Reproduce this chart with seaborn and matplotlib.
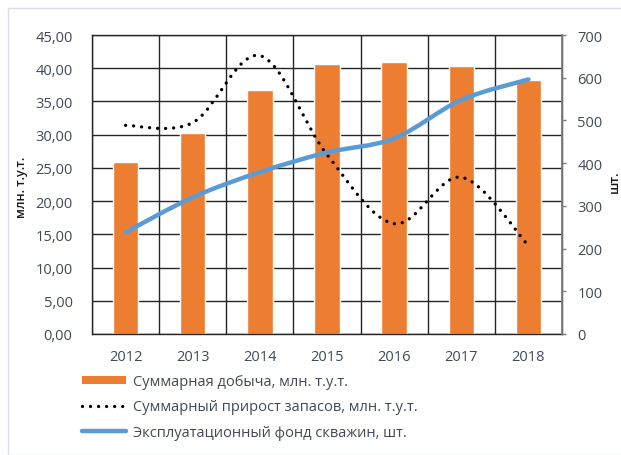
import matplotlib
matplotlib.use('Agg')
import matplotlib.pyplot as plt
import seaborn as sns
import numpy as np
import pandas as pd
from matplotlib.path import Path
from matplotlib.patches import PathPatch, Rectangle
from matplotlib.lines import Line2D
from matplotlib.ticker import FixedLocator, FuncFormatter, MultipleLocator

years = ['2012', '2013', '2014', '2015', '2016', '2017', '2018']
production = [25.9, 30.3, 36.7, 40.7, 40.9, 40.4, 38.2]
reserves_growth = [31.4, 31.8, 41.9, 27.0, 16.6, 23.6, 13.3]
wells = [238, 320, 379, 425, 458, 548, 596]

label_prod = 'Суммарная добыча, млн. т.у.т.'
label_res = 'Суммарный прирост запасов, млн. т.у.т.'
label_wells = 'Эксплуатационный фонд скважин, шт.'

ORANGE = '#ed7d31'
BLUE = '#5b9bd5'
TXT = '#404a58'
GRID = '#262626'

sns.set_theme(style='white')
plt.rcParams['font.family'] = ['Open Sans', 'DejaVu Sans']

W, H = 621, 456
fig = plt.figure(figsize=(W / 100, H / 100), dpi=100)
fig.patch.set_facecolor('white')
fig.patches.append(Rectangle((8 / W, 0), 1, 1 - 9 / H, transform=fig.transFigure,
                             fill=False, edgecolor='#d9dee6', lw=1))

ax = fig.add_axes([92 / W, 1 - 335 / H, (562 - 92) / W, (335 - 36) / H])
df = pd.DataFrame({'year': years, 'prod': production})
sns.barplot(data=df, x='year', y='prod', color=ORANGE, saturation=1, width=0.38, ax=ax, zorder=2)
ax.set_xlim(-0.5, 6.5)
ax.set_ylim(0, 45)
ax.yaxis.set_major_locator(MultipleLocator(5))
ax.yaxis.set_major_formatter(FuncFormatter(lambda v, p: f'{v:.2f}'.replace('.', ',')))
ax.xaxis.set_minor_locator(FixedLocator(np.arange(-0.5, 7, 1)))
ax.grid(True, axis='y', which='major', color=GRID, lw=1, zorder=0)
ax.grid(True, axis='x', which='minor', color=GRID, lw=1, zorder=0)
ax.grid(False, axis='x', which='major')
ax.set_axisbelow(True)
for s in ax.spines.values():
    s.set_visible(True)
    s.set_color(GRID)
    s.set_linewidth(1)
ax.tick_params(axis='both', which='both', length=0, labelsize=10.5, labelcolor=TXT)
ax.tick_params(axis='y', pad=14)
ax.tick_params(axis='x', pad=11)
ax.set_xlabel('')
ax.set_ylabel('')


def smooth_path(xs, ys):
    pts = np.column_stack([xs, ys]).astype(float)
    n = len(pts)
    verts = [pts[0]]
    codes = [Path.MOVETO]
    for i in range(n - 1):
        p0 = pts[i - 1] if i > 0 else pts[i]
        p1 = pts[i]
        p2 = pts[i + 1]
        p3 = pts[i + 2] if i + 2 < n else pts[i + 1]
        c1 = p1 + (p2 - p0) / 6.0
        c2 = p2 - (p3 - p1) / 6.0
        verts += [c1, c2, p2]
        codes += [Path.CURVE4] * 3
    return Path(verts, codes)


DOT = (0, (0.01, 2.4))
xpos = np.arange(len(years))
dot_patch = PathPatch(smooth_path(xpos, reserves_growth), fill=False, edgecolor='black',
                      lw=2.4, linestyle=DOT, capstyle='round', zorder=4)
ax.add_patch(dot_patch)

ax2 = ax.twinx()
ax2.set_ylim(0, 700)
ax2.yaxis.set_major_locator(MultipleLocator(100))
line_patch = PathPatch(smooth_path(xpos, wells), fill=False, edgecolor=BLUE,
                       lw=3.2, capstyle='round', joinstyle='round', zorder=5)
ax2.add_patch(line_patch)
ax2.grid(False)
for s in ax2.spines.values():
    s.set_visible(False)
ax2.spines['right'].set_visible(True)
ax2.spines['right'].set_color('#7f7f7f')
ax2.tick_params(axis='y', direction='out', length=3, color='#7f7f7f', width=1,
                labelsize=10.5, labelcolor=TXT, pad=8)

fig.text(22 / W, 1 - 187 / H, 'млн. т.у.т.', rotation=90, ha='center', va='center',
         fontsize=9, color='#1a1a1a', fontweight='semibold')
fig.text(614 / W, 1 - 182 / H, 'шт.', rotation=90, ha='center', va='center',
         fontsize=9.5, color='#1a1a1a', fontweight='semibold')

handles = [
    Rectangle((0, 0), 1, 1, facecolor=ORANGE, edgecolor='none'),
    Line2D([], [], color='black', lw=2.4, linestyle=DOT, dash_capstyle='round'),
    Line2D([], [], color=BLUE, lw=3.2, solid_capstyle='round'),
]
leg = fig.legend(handles, [label_prod, label_res, label_wells], loc='upper left',
                 bbox_to_anchor=(82 / W, 1 - 375 / H), frameon=False, fontsize=10.5,
                 handlelength=3.0, handleheight=0.45, handletextpad=0.5, labelspacing=0.72,
                 borderaxespad=0, borderpad=0)
for t in leg.get_texts():
    t.set_color(TXT)

fig.savefig('out.png', dpi=100, facecolor='white')
